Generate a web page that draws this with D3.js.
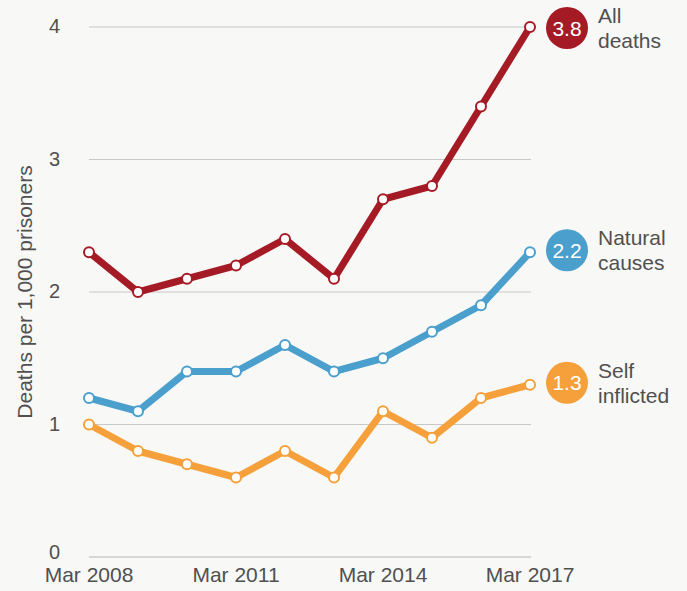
<!DOCTYPE html>
<html lang="en">
<head>
<meta charset="UTF-8">
<title>Deaths per 1,000 prisoners</title>
<script src="https://d3js.org/d3.v7.min.js"></script>
<style>
    body {
        margin: 0;
        padding: 0;
        background-color: #f8f8f6;
        font-family: "Liberation Sans", Arial, Helvetica, sans-serif;
    }
    svg { display: block; }
    .tick-label { font-size: 20px; fill: #505050; }
    .series-label { font-size: 21px; fill: #505050; }
</style>
</head>
<body>
<svg></svg>
<script>
    const years = [2008, 2009, 2010, 2011, 2012, 2013, 2014, 2015, 2016, 2017];
    const allDeaths = [2.3, 2.0, 2.1, 2.2, 2.4, 2.1, 2.7, 2.8, 3.4, 4.0];
    const naturalCauses = [1.2, 1.1, 1.4, 1.4, 1.6, 1.4, 1.5, 1.7, 1.9, 2.3];
    const selfInflicted = [1.0, 0.8, 0.7, 0.6, 0.8, 0.6, 1.1, 0.9, 1.2, 1.3];
    const yTicks = [0, 1, 2, 3, 4];
    const xTicks = [2008, 2011, 2014, 2017];

    const series = [
        { name: ["All", "deaths"], values: allDeaths, badge: "3.8", color: "#a51b25" },
        { name: ["Natural", "causes"], values: naturalCauses, badge: "2.2", color: "#4a9fcd" },
        { name: ["Self", "inflicted"], values: selfInflicted, badge: "1.3", color: "#f5a03a" }
    ];

    const width = 687, height = 591;
    const svg = d3.select("svg").attr("width", width).attr("height", height);

    const x = d3.scaleLinear().domain([2008, 2017]).range([89, 530]);
    const y = d3.scaleLinear().domain([0, 4]).range([557, 27]);

    // gridlines
    svg.selectAll("line.grid")
        .data(yTicks)
        .enter().append("line")
        .attr("x1", 89).attr("x2", 531)
        .attr("y1", d => y(d)).attr("y2", d => y(d))
        .style("stroke", d => d === 0 ? "#b5b5b5" : "#c8c8c8")
        .style("stroke-width", 1);

    // the 0 label sits a little higher so it clears the date labels
    svg.selectAll("text.ytick")
        .data(yTicks)
        .enter().append("text")
        .attr("class", "tick-label")
        .attr("x", 60)
        .attr("y", d => y(d) + (d === 0 ? 2 : 6))
        .attr("text-anchor", "end")
        .text(d => d);

    svg.selectAll("text.xtick")
        .data(xTicks)
        .enter().append("text")
        .attr("class", "tick-label")
        .attr("x", d => x(d))
        .attr("y", 582)
        .attr("text-anchor", "middle")
        .style("font-size", "21px")
        .text(d => "Mar " + d);

    svg.append("text")
        .attr("class", "tick-label")
        .attr("transform", "translate(32,292) rotate(-90)")
        .attr("text-anchor", "middle")
        .style("font-size", "21px")
        .text("Deaths per 1,000 prisoners");

    const line = d3.line()
        .x((d, i) => x(years[i]))
        .y(d => y(d));

    series.forEach(s => {
        svg.append("path")
            .attr("d", line(s.values))
            .attr("fill", "none")
            .attr("stroke", s.color)
            .attr("stroke-width", 7)
            .attr("stroke-linejoin", "round");

        svg.selectAll(null)
            .data(s.values)
            .enter().append("circle")
            .attr("cx", (d, i) => x(years[i]))
            .attr("cy", d => y(d))
            .attr("r", 5)
            .attr("fill", "#fff")
            .attr("stroke", s.color)
            .attr("stroke-width", 2);

        const last = s.values[s.values.length - 1];
        const cy = Math.max(28, y(last) - 2);
        svg.append("circle")
            .attr("cx", 567).attr("cy", cy).attr("r", 21)
            .attr("fill", s.color);
        svg.append("text")
            .attr("x", 567).attr("y", cy + 7.5)
            .attr("text-anchor", "middle")
            .style("font-size", "21px")
            .style("fill", "#fff")
            .text(s.badge);
        svg.append("text")
            .attr("class", "series-label")
            .attr("x", 598).attr("y", cy - 5)
            .text(s.name[0]);
        svg.append("text")
            .attr("class", "series-label")
            .attr("x", 598).attr("y", cy + 20)
            .text(s.name[1]);
    });
</script>
</body>
</html>
